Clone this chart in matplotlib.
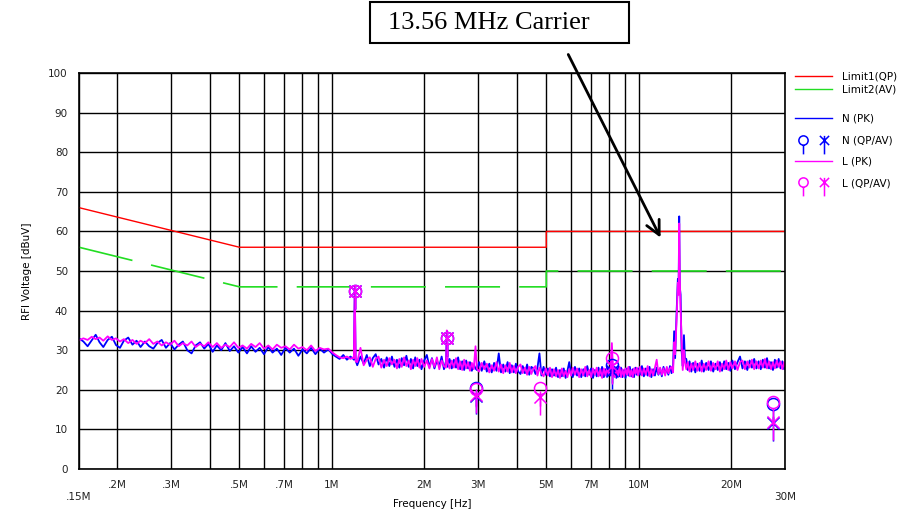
import numpy as np
import matplotlib
matplotlib.use('Agg')
import matplotlib.pyplot as plt
from matplotlib.path import Path
from matplotlib.lines import Line2D
from matplotlib.patches import Rectangle
from matplotlib.legend_handler import HandlerTuple

plt.rcParams['font.family'] = 'DejaVu Sans'

# Limit lines (EN 55011 style)
lim_f = [0.15, 0.5, 5, 5, 30]
lim_qp = [66, 56, 56, 60, 60]
lim_av = [56, 46, 46, 50, 50]

# Peak traces [MHz], N (blue) and L (magenta) [dBuV]
freq = [0.150, 0.155, 0.160, 0.165, 0.170, 0.175, 0.180, 0.186, 0.192, 0.198,
        0.204, 0.210, 0.217, 0.224, 0.231, 0.238, 0.246, 0.254, 0.262, 0.270,
        0.279, 0.288, 0.297, 0.307, 0.317, 0.327, 0.338, 0.349, 0.360, 0.372,
        0.384, 0.396, 0.409, 0.422, 0.436, 0.450, 0.465, 0.480, 0.496, 0.512,
        0.529, 0.546, 0.564, 0.582, 0.601, 0.621, 0.641, 0.662, 0.684, 0.706,
        0.729, 0.753, 0.778, 0.803, 0.829, 0.856, 0.884, 0.913, 0.943, 0.974,
        1.005, 1.03, 1.06, 1.09, 1.12, 1.15, 1.175, 1.180, 1.188, 1.196,
        1.21, 1.24, 1.27, 1.30, 1.33, 1.36, 1.39, 1.42, 1.45, 1.48,
        1.51, 1.54, 1.57, 1.60, 1.63, 1.66, 1.69, 1.72, 1.75, 1.78,
        1.81, 1.84, 1.87, 1.90, 1.93, 1.96, 2.00, 2.04, 2.08, 2.12,
        2.16, 2.20, 2.24, 2.28, 2.32, 2.355, 2.37, 2.385, 2.42, 2.46,
        2.50, 2.54, 2.58, 2.62, 2.66, 2.70, 2.74, 2.78, 2.82, 2.86,
        2.90, 2.94, 2.97, 3.02, 3.08, 3.14, 3.20, 3.26, 3.32, 3.38,
        3.44, 3.50, 3.56, 3.62, 3.68, 3.74, 3.80, 3.86, 3.92, 3.98,
        4.05, 4.12, 4.19, 4.26, 4.33, 4.40, 4.47, 4.54, 4.61, 4.68,
        4.75, 4.82, 4.90, 4.98, 5.06, 5.14, 5.22, 5.30, 5.38, 5.46,
        5.54, 5.62, 5.70, 5.78, 5.86, 5.94, 6.02, 6.10, 6.20, 6.30,
        6.40, 6.50, 6.60, 6.70, 6.80, 6.90, 7.00, 7.10, 7.20, 7.30,
        7.40, 7.50, 7.60, 7.70, 7.80, 7.90, 8.00, 8.10, 8.18, 8.26,
        8.36, 8.46, 8.56, 8.66, 8.76, 8.86, 8.96, 9.06, 9.16, 9.26,
        9.36, 9.46, 9.56, 9.66, 9.76, 9.86, 9.96, 10.1, 10.25, 10.4,
        10.55, 10.7, 10.85, 11.0, 11.15, 11.3, 11.45, 11.6, 11.75, 11.9,
        12.05, 12.2, 12.35, 12.5, 12.65, 12.8, 12.95, 13.05, 13.15, 13.3,
        13.42, 13.50, 13.56, 13.62, 13.70, 13.80, 13.92, 14.05, 14.15, 14.30,
        14.45, 14.65, 14.85, 15.05, 15.3, 15.55, 15.8, 16.05, 16.3, 16.6,
        16.9, 17.2, 17.5, 17.8, 18.1, 18.4, 18.7, 19.0, 19.3, 19.6,
        19.9, 20.2, 20.6, 21.0, 21.4, 21.8, 22.2, 22.6, 23.0, 23.4,
        23.8, 24.2, 24.6, 25.0, 25.4, 25.8, 26.2, 26.6, 27.0, 27.4,
        27.8, 28.2, 28.6, 29.0, 29.4, 29.8, 30.0]

n_pk = [33.0, 32.2, 31.0, 32.5, 33.9, 32.0, 30.8, 32.6, 33.4, 31.3,
        30.6, 32.4, 33.2, 31.4, 32.4, 30.8, 32.2, 31.0, 30.4, 31.8,
        32.6, 30.6, 31.8, 30.2, 31.4, 32.2, 30.0, 29.2, 31.2, 32.0,
        30.4, 31.6, 29.6, 31.2, 30.0, 31.8, 29.8, 31.0, 29.4, 30.8,
        29.2, 31.0, 29.6, 30.6, 29.0, 30.8, 29.4, 30.4, 28.8, 30.6,
        29.4, 30.4, 28.6, 30.2, 29.2, 30.6, 29.0, 30.4, 29.4, 30.2,
        29.0, 28.4, 27.8, 28.8, 27.6, 28.4, 27.8, 27.6, 45.6, 27.4,
        26.2, 28.4, 26.6, 28.8, 26.0, 28.0, 29.0, 26.4, 27.8, 25.6,
        28.2, 26.0, 28.4, 25.8, 27.6, 25.6, 28.0, 26.2, 28.6, 25.8,
        27.8, 25.4, 28.2, 26.0, 27.6, 25.2, 27.4, 28.8, 25.8, 28.0,
        25.4, 27.4, 26.0, 28.4, 25.2, 27.2, 34.0, 25.8, 27.8, 25.4,
        27.6, 25.6, 28.2, 25.2, 27.2, 25.0, 27.4, 25.4, 27.0, 24.8,
        26.4, 25.4, 25.0, 27.0, 24.8, 27.2, 24.6, 26.6, 24.4, 26.8,
        24.8, 29.2, 24.4, 26.4, 24.6, 27.0, 24.2, 26.2, 24.4, 26.6,
        24.6, 24.0, 26.0, 24.2, 26.4, 23.8, 25.8, 25.4, 24.0, 25.6,
        29.2, 23.6, 25.8, 23.8, 25.4, 23.4, 25.2, 23.6, 25.6, 23.2,
        25.0, 23.4, 25.4, 23.0, 24.8, 27.0, 24.2, 23.2, 25.8, 23.6,
        25.4, 23.2, 25.2, 23.4, 26.0, 23.8, 25.4, 23.0, 25.0, 23.4,
        25.6, 23.6, 25.8, 23.2, 25.2, 23.4, 25.6, 23.6, 26.0, 23.8,
        25.8, 23.0, 25.2, 23.4, 25.6, 23.2, 25.0, 23.0, 25.4, 23.6,
        25.8, 23.4, 25.2, 23.2, 25.6, 23.8, 25.4, 23.8, 26.0, 23.4,
        25.4, 23.6, 25.8, 23.2, 25.2, 23.6, 25.6, 23.8, 25.4, 23.4,
        25.8, 24.0, 25.4, 23.8, 26.0, 24.2, 26.0, 34.8, 28.0, 40.0,
        48.0, 47.0, 63.8, 46.0, 44.0, 30.0, 26.0, 33.8, 28.0, 27.8,
        25.0, 27.2, 24.6, 26.8, 24.4, 26.6, 24.8, 27.4, 24.6, 26.8,
        25.0, 27.2, 24.6, 26.6, 25.0, 27.0, 24.8, 27.2, 25.2, 26.8,
        24.8, 27.4, 25.2, 27.0, 28.4, 25.4, 27.2, 25.0, 27.4, 25.6,
        27.8, 25.4, 27.2, 25.2, 27.6, 25.6, 28.0, 25.4, 27.0, 25.0,
        27.6, 25.6, 27.8, 25.4, 27.2, 25.2, 26.4]

l_pk = [32.5, 33.0, 32.6, 33.4, 32.8, 33.2, 32.4, 33.5, 32.6, 33.0,
        32.2, 32.8, 31.8, 32.6, 31.6, 32.4, 31.8, 32.8, 31.6, 32.2,
        31.2, 32.0, 31.4, 32.4, 31.0, 31.8, 31.2, 32.2, 30.8, 31.6,
        31.0, 32.0, 30.8, 31.8, 30.6, 31.4, 30.8, 32.0, 30.6, 31.2,
        30.4, 31.6, 30.8, 31.8, 30.4, 31.2, 30.2, 31.4, 30.6, 31.0,
        30.2, 31.4, 30.4, 30.8, 30.0, 31.2, 29.8, 30.6, 30.2, 30.4,
        29.4, 28.8, 28.2, 28.0, 28.4, 27.8, 28.2, 28.0, 46.0, 27.2,
        27.0, 30.6, 26.2, 27.6, 28.2, 25.8, 27.8, 28.4, 25.6, 27.6,
        26.0, 28.0, 26.4, 27.6, 25.4, 27.8, 25.8, 28.2, 26.0, 27.4,
        25.2, 27.6, 26.0, 28.0, 25.6, 27.8, 25.8, 27.4, 25.4, 27.8,
        25.8, 28.2, 25.2, 27.4, 26.0, 25.6, 35.0, 27.0, 25.4, 27.4,
        25.6, 28.0, 25.2, 27.2, 25.0, 27.6, 25.4, 27.0, 24.8, 26.8,
        25.2, 31.0, 25.4, 24.6, 26.8, 25.2, 26.6, 24.4, 26.2, 24.8,
        27.0, 24.6, 26.4, 24.2, 26.2, 24.6, 26.8, 24.4, 26.0, 24.2,
        25.8, 26.4, 24.2, 25.6, 23.8, 25.8, 24.0, 25.4, 26.0, 23.6,
        25.6, 24.2, 23.4, 25.4, 23.6, 25.6, 23.2, 25.2, 23.4, 25.0,
        23.0, 25.4, 23.4, 24.8, 23.2, 25.2, 23.6, 25.6, 23.8, 25.4,
        23.2, 25.2, 23.6, 25.8, 23.4, 25.0, 23.2, 25.4, 23.8, 25.6,
        23.4, 25.2, 23.0, 25.4, 23.6, 25.8, 23.8, 25.4, 31.8, 24.0,
        23.2, 25.6, 23.6, 25.8, 23.2, 25.2, 23.4, 25.4, 23.8, 25.8,
        23.4, 25.0, 23.2, 25.4, 24.0, 25.6, 23.6, 25.8, 23.6, 25.4,
        23.8, 26.0, 23.4, 25.2, 23.6, 25.6, 27.6, 24.0, 25.6, 23.8,
        25.4, 23.6, 25.8, 24.2, 25.4, 25.8, 24.4, 32.0, 29.0, 38.0,
        47.0, 44.0, 62.0, 48.0, 40.0, 33.0, 25.0, 30.0, 27.0, 25.2,
        27.0, 24.6, 26.6, 25.0, 27.2, 24.8, 26.8, 24.6, 26.6, 25.0,
        27.2, 24.8, 26.8, 25.2, 27.2, 24.6, 26.6, 25.2, 27.4, 25.0,
        27.0, 25.4, 27.2, 25.0, 27.0, 27.4, 25.2, 27.2, 25.6, 27.6,
        25.2, 27.2, 25.4, 27.4, 25.6, 27.8, 25.4, 27.2, 25.2, 27.0,
        25.4, 27.4, 25.8, 27.2, 25.2, 27.0, 26.0]

# QP / AV final measurements
n_mf = [1.19, 2.37, 2.95, 8.2, 27.4]
n_qp = [45.0, 33.0, 20.5, 26.2, 16.5]
n_av = [45.0, 33.0, 18.5, 24.8, 11.5]
l_mf = [1.19, 2.37, 2.95, 4.77, 8.2, 27.4]
l_qp = [45.0, 33.0, 20.3, 20.4, 28.0, 16.8]
l_av = [45.0, 33.0, 18.6, 18.2, 26.0, 11.8]

x_major = [0.15, 0.2, 0.3, 0.5, 0.7, 1, 2, 3, 5, 7, 10, 20, 30]
x_labels = ['\n.15M', '.2M', '.3M', '.5M', '.7M', '1M', '2M', '3M', '5M', '7M',
            '10M', '20M', '\n30M']
x_minor = [0.4, 0.6, 0.8, 0.9, 4, 6, 8, 9]

# marker shapes: circle on a stem (QP), cross with a stem (AV)
qp_mark = Path.make_compound_path(Path.unit_circle(),
                                  Path([(0, -1), (0, -3)], [Path.MOVETO, Path.LINETO]))
av_mark = Path([(-1, -1), (1, 1), (-1, 1), (1, -1), (0, 1), (0, -3)],
               [Path.MOVETO, Path.LINETO, Path.MOVETO, Path.LINETO, Path.MOVETO, Path.LINETO])

BLUE = '#0000ff'
MAG = '#ff00ff'
RED = '#ff0000'
GREEN = '#22dd22'

fig = plt.figure(figsize=(9.01, 5.17), dpi=100)
ax = fig.add_axes([0.0877, 0.0928, 0.7836, 0.766])

ax.plot(lim_f, lim_qp, color=RED, lw=1)
ax.plot(lim_f, lim_av, color=GREEN, lw=1.2, dashes=(33, 11.5))
ax.plot(freq, n_pk, color=BLUE, lw=1.3)
ax.plot(freq, l_pk, color=MAG, lw=1.3)

ms = 26
for f, q, a, c in [(n_mf, n_qp, n_av, BLUE), (l_mf, l_qp, l_av, MAG)]:
    ax.plot(f, q, ls='none', marker=qp_mark, ms=ms, mfc='none', mec=c, mew=1.1)
    ax.plot(f, a, ls='none', marker=av_mark, ms=ms, mfc='none', mec=c, mew=1.1)

ax.set_xscale('log')
ax.set_xlim(0.15, 30)
ax.set_ylim(0, 100)
ax.set_xticks(x_major)
ax.set_xticklabels(x_labels)
ax.set_xticks(x_minor, minor=True)
ax.set_yticks(range(0, 101, 10))
ax.tick_params(which='both', length=0, labelsize=7.5, colors='#222222')
ax.tick_params(axis='x', pad=8)
ax.tick_params(axis='y', pad=8)
ax.grid(True, which='both', color='black', lw=1)
ax.set_axisbelow(True)
for s in ax.spines.values():
    s.set_color('black')
    s.set_linewidth(1.2)

ax.set_xlabel('Frequency [Hz]', fontsize=7.5, labelpad=-2)
ax.set_ylabel('RFI Voltage [dBuV]', fontsize=7.5, labelpad=12)

# legends
h1 = [Line2D([], [], color=RED, lw=1), Line2D([], [], color=GREEN, lw=1)]
fig.legend(h1, ['Limit1(QP)', 'Limit2(AV)'], loc='upper left',
           bbox_to_anchor=(0.882, 0.862), frameon=False, fontsize=7.5,
           handlelength=3.6, handletextpad=0.9, labelspacing=0.35,
           borderpad=0, borderaxespad=0)

def mk(c, m):
    return Line2D([], [], ls='none', marker=m, ms=20, mfc='none', mec=c, mew=1.1)

h2 = [Line2D([], [], color=BLUE, lw=1), (mk(BLUE, qp_mark), mk(BLUE, av_mark)),
      Line2D([], [], color=MAG, lw=1), (mk(MAG, qp_mark), mk(MAG, av_mark))]
fig.legend(h2, ['N (PK)', 'N (QP/AV)', 'L (PK)', 'L (QP/AV)'], loc='upper left',
           bbox_to_anchor=(0.882, 0.780), frameon=False, fontsize=7.5,
           handlelength=3.6, handletextpad=0.9, labelspacing=1.1,
           borderpad=0, borderaxespad=0,
           handler_map={tuple: HandlerTuple(ndivide=None, pad=0.4)})

# carrier callout
fig.patches.append(Rectangle((370 / 901, 1 - 43 / 517), 259 / 901, 41 / 517,
                             transform=fig.transFigure, fill=False,
                             edgecolor='black', lw=1.5))
fig.text(388 / 901, 1 - 23 / 517, '13.56 MHz Carrier', family='Liberation Serif',
         fontsize=19, ha='left', va='center')
ax.annotate('', xy=(11.9, 57.8), xycoords='data', xytext=(567, 517 - 52),
            textcoords='figure pixels', annotation_clip=False,
            arrowprops=dict(arrowstyle='->', lw=2, color='black', mutation_scale=25))

fig.savefig('out.png', dpi=100)
